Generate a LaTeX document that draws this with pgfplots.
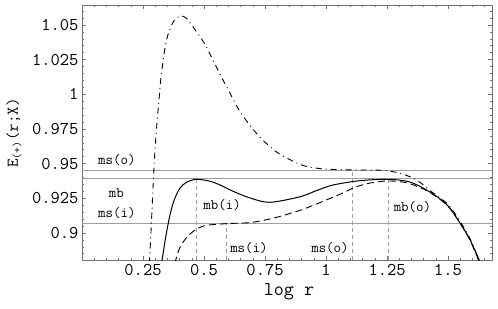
\documentclass[border=0pt]{standalone}
\usepackage{fontspec}
\usepackage{pgfplots}
\pgfplotsset{compat=1.18}
\definecolor{frame}{gray}{0.45}
\definecolor{refl}{gray}{0.62}
\begin{document}
\begin{tikzpicture}
\begin{axis}[
  at={(82pt,48pt)}, anchor=south west,
  scale only axis, width=410pt, height=255pt,
  xmin=0, xmax=1.68, ymin=0.8805, ymax=1.0644,
  xtick={0.25,0.5,0.75,1,1.25,1.5},
  xticklabels={\texttt{0.25},\texttt{0.5},\texttt{0.75},\texttt{1},\texttt{1.25},\texttt{1.5}},
  ytick={0.9,0.925,0.95,0.975,1,1.025,1.05},
  yticklabels={\texttt{0.9},\texttt{0.925},\texttt{0.95},\texttt{0.975},\texttt{1},\texttt{1.025},\texttt{1.05}},
  minor xtick={0.05,0.1,...,1.65},
  minor ytick={0.885,0.89,...,1.0641},
  tick align=inside,
  major tick length=4pt, minor tick length=2pt,
  axis line style={frame, line width=0.8pt},
  every tick/.style={frame, line width=0.6pt},
  /pgf/number format/assume math mode=true,
  tick label style={font=\ttfamily\fontsize{18}{20}\selectfont, text=black},
  xticklabel style={yshift=-1pt},
  clip=true,
]
% reference lines
\addplot[refl, line width=0.9pt] coordinates {(0,0.9453) (1.68,0.9453)};
\addplot[refl, line width=0.9pt] coordinates {(0,0.9390) (1.68,0.9390)};
\addplot[refl, line width=0.9pt] coordinates {(0,0.9066) (1.68,0.9066)};
% vertical markers
\addplot[refl, line width=0.8pt, dash pattern=on 4pt off 3pt] coordinates {(0.467,0.8805) (0.467,0.9388)};
\addplot[refl, line width=0.8pt, dash pattern=on 4pt off 3pt] coordinates {(0.59,0.8805) (0.59,0.9068)};
\addplot[refl, line width=0.8pt, dash pattern=on 4pt off 3pt] coordinates {(1.11,0.8805) (1.11,0.9453)};
\addplot[refl, line width=0.8pt, dash pattern=on 4pt off 3pt] coordinates {(1.254,0.8805) (1.254,0.9388)};
% solid curve
\addplot[black, line width=1pt, smooth] coordinates {
(0.326,0.8780) (0.343,0.8970) (0.360,0.9126) (0.377,0.9234) (0.400,0.9320) (0.426,0.9363)
(0.467,0.9387) (0.52,0.9375) (0.566,0.9346) (0.62,0.9300) (0.689,0.9252) (0.77,0.9221)
(0.893,0.9261) (0.96,0.9305) (1.029,0.9346) (1.139,0.9377) (1.254,0.9387) (1.344,0.9367)
(1.426,0.9295) (1.496,0.9202) (1.549,0.9072) (1.590,0.8950) (1.627,0.8806) (1.632,0.8780)};
% dashed curve
\addplot[black, line width=0.9pt, smooth, dash pattern=on 7pt off 4pt] coordinates {
(0.380,0.8780) (0.40,0.8890) (0.43,0.8970) (0.467,0.9025) (0.51,0.9055) (0.60,0.9068)
(0.69,0.9075) (0.78,0.9105) (0.86,0.9145) (0.92,0.9180) (1.045,0.9270) (1.12,0.9330)
(1.18,0.9360) (1.25,0.9375) (1.32,0.9366) (1.37,0.9338) (1.426,0.9292) (1.496,0.9200)
(1.549,0.9070) (1.590,0.8948) (1.630,0.8780)};
% dash-dot curve
\addplot[black, line width=0.9pt, smooth, dash pattern=on 6pt off 4pt on 1pt off 4pt] coordinates {
(0.276,0.8780) (0.283,0.9020) (0.289,0.9250) (0.295,0.9470) (0.300,0.9620) (0.307,0.9790)
(0.315,0.9950) (0.324,1.0125) (0.340,1.0334) (0.352,1.0428) (0.373,1.0520) (0.392,1.0555)
(0.410,1.0565) (0.430,1.0545) (0.455,1.0485) (0.490,1.0400) (0.516,1.0320) (0.566,1.0143)
(0.600,1.0030) (0.648,0.9874) (0.720,0.9708) (0.800,0.9580) (0.893,0.9495) (0.950,0.9470)
(1.016,0.9459) (1.100,0.9455) (1.200,0.9453) (1.250,0.9450) (1.303,0.9430) (1.340,0.9408)
(1.365,0.9388) (1.400,0.9345) (1.430,0.9300) (1.500,0.9205) (1.552,0.9075) (1.592,0.8952)
(1.630,0.8790)};
% labels
\begin{scope}[every node/.style={font=\ttfamily\fontsize{14.5}{16}\selectfont, inner sep=0pt}]
\node at (axis cs:0.143,0.9526) {ms(o)};
\node at (axis cs:0.141,0.9290) {mb};
\node at (axis cs:0.143,0.9146) {ms(i)};
\node at (axis cs:0.574,0.9200) {mb(i)};
\node at (axis cs:0.684,0.8888) {ms(i)};
\node at (axis cs:1.016,0.8888) {ms(o)};
\node at (axis cs:1.354,0.9188) {mb(o)};
\end{scope}
\end{axis}
\node[rotate=90, font=\ttfamily\fontsize{16.5}{18}\selectfont, inner sep=0pt] at (14pt,175pt) {E\textsubscript{(+)}(r;X)};
\node[font=\ttfamily\fontsize{19.5}{21}\selectfont, inner sep=0pt] at (289pt,16pt) {log r};
\pgfresetboundingbox
\path[use as bounding box] (0pt,0pt) rectangle (498pt,308pt);
\end{tikzpicture}
\end{document}
